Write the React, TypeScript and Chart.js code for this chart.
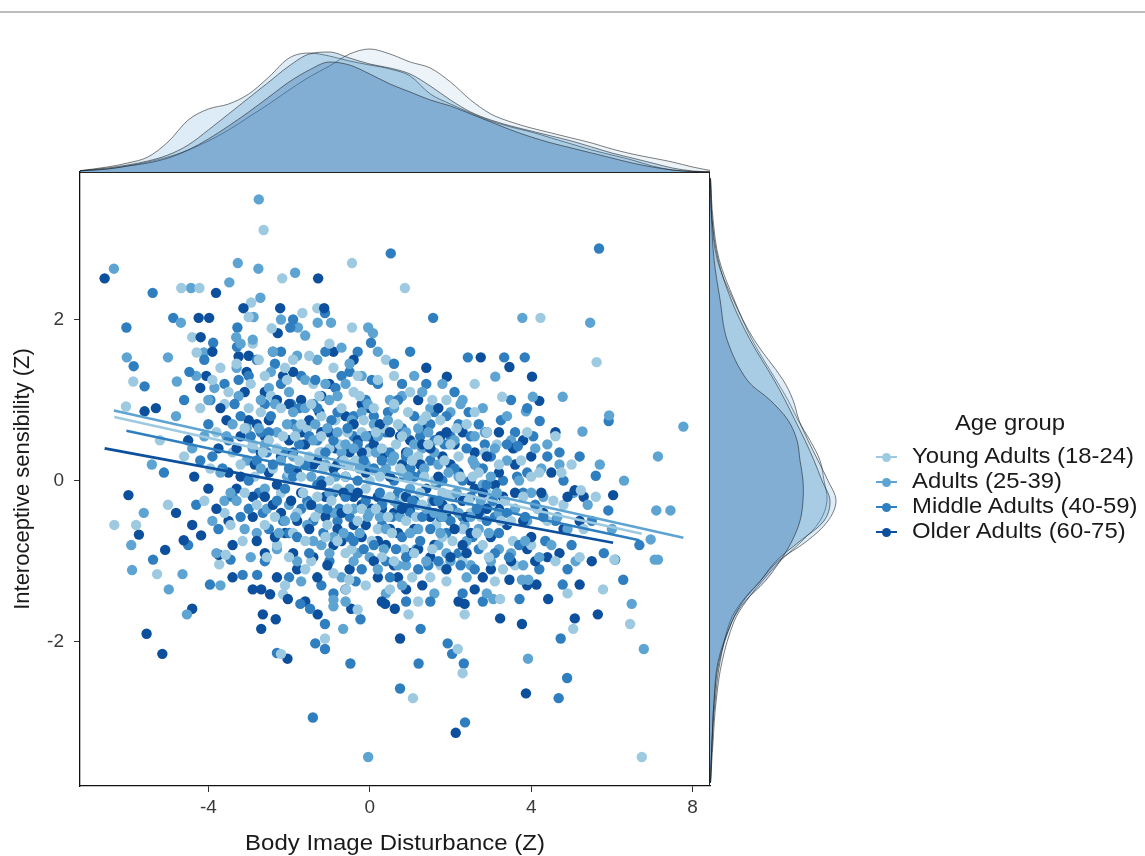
import React, { useEffect, useRef } from 'react';
import { Chart, registerables } from 'chart.js';
Chart.register(...registerables);

const FONT = "'Liberation Sans', Arial, Helvetica, sans-serif";

const GROUPS = ['Young Adults (18-24)', 'Adults (25-39)', 'Middle Adults (40-59)', 'Older Adults (60-75)'];
const COLORS = ['#9ecae1', '#5ea4d3', '#2f7fc0', '#0c4f9c'];
const FILLS = ['rgba(158,202,225,0.2)', 'rgba(107,174,214,0.23)', 'rgba(49,130,189,0.23)', 'rgba(8,81,156,0.24)'];

const X_TICKS = [-4, 0, 4, 8];
const Y_TICKS = [-2, 0, 2];
const X_RANGE = [-7.18, 8.43];
const Y_RANGE = [-3.79, 3.83];

// scatter points [x, y]
const YOUNG_PTS: number[][] = [
  [-4.67,2.39],[-4.22,2.39],[-2.63,3.11],[-2.17,2.51],[-0.44,2.70],[-5.86,1.23],[-6.04,0.92],[-4.40,1.78],[-4.29,1.59],[-2.94,2.21],
  [-3.00,2.03],[-2.43,1.89],[-1.67,2.08],[-1.30,2.14],[-0.44,1.90],[0.87,2.39],[4.23,2.02],[5.62,1.47],[3.28,1.04],[4.60,0.55],
  [5.23,-0.12],[-6.33,-0.55],[-5.79,-0.55],[-5.27,-1.16],[-3.57,-0.92],[-3.73,-1.04],[-2.20,-2.15],[-2.15,-1.41],[-1.11,-1.96],[-0.51,-1.23],
  [-0.59,-1.35],[6.45,-1.78],[6.74,-3.43],[5.04,-1.84],[3.23,-1.47],[2.35,-1.66],[2.18,-2.09],[2.30,-2.39],[1.07,-2.70],[0.96,-1.66],
  [6.06,-0.98],[5.78,-1.35],
  [-3.8,0.6],[-3.5,1.1],[-3.2,0.2],[-3.0,0.9],[-2.8,-0.3],[-2.6,1.3],[-2.5,0.5],[-2.3,-0.8],[-2.2,0.9],[-2.0,0.1],
  [-1.9,1.5],[-1.8,-0.4],[-1.7,0.7],[-1.6,-1.1],[-1.5,0.3],[-1.4,1.2],[-1.3,-0.2],[-1.2,0.8],[-1.1,-0.7],[-1.0,0.4],
  [-0.9,1.4],[-0.8,-0.1],[-0.7,0.9],[-0.6,-0.9],[-0.5,0.2],[-0.4,1.1],[-0.3,-0.5],[-0.2,0.6],[-0.1,-1.3],[0.0,0.0],
  [0.1,0.9],[0.2,-0.6],[0.3,0.4],[0.4,1.5],[0.5,-0.2],[0.6,-1.0],[0.7,0.7],[0.8,0.1],[0.9,-0.5],[1.0,1.1],
  [1.1,-0.9],[1.2,0.3],[1.3,-0.3],[1.4,0.8],[1.5,-1.2],[1.6,0.0],[1.7,0.5],[1.8,-0.7],[1.9,1.0],[2.0,-0.2],
  [2.2,0.3],[2.3,-1.0],[2.4,0.7],[2.5,-0.4],[2.7,0.1],[2.8,-0.8],[2.9,0.6],[3.0,-0.3],[3.2,0.2],[3.3,-1.1],
  [3.5,-0.5],[3.6,0.4],[3.8,-0.2],[4.0,-0.8],[4.2,0.1],[4.4,-0.5],[4.6,-1.0],[4.8,-0.3],[5.0,0.2],[5.3,-0.6],
  [5.6,-0.2],[-3.6,-0.4],[-4.2,0.9],[-4.6,0.3],[-5.2,0.5],[-2.9,1.7],[-1.0,1.7],[0.6,1.3],[-0.3,-1.6],[1.2,-1.5],
  [-2.1,-1.3],[3.9,0.6],[2.6,1.2],[-5.0,-0.3],[4.9,-1.4],
  [-2.9,0.45],[-2.6,-0.55],[-2.4,0.15],[-2.15,0.55],[-1.95,-0.25],[-1.75,0.25],[-1.55,0.65],[-1.35,-0.45],[-1.15,0.15],[-0.95,-0.25],
  [-0.75,0.45],[-0.55,-0.35],[-0.35,0.25],[-0.15,0.75],[0.05,-0.75],[0.25,0.05],[0.45,-0.45],[0.65,0.45],[0.85,-0.85],[1.05,0.25],
  [1.25,-0.15],[1.45,0.45],[1.65,-0.55],[1.85,0.25],[2.05,-0.75],[2.25,0.05],[2.45,-0.25],[2.65,-0.65],[2.85,0.35],[-3.1,-0.15],
  [-2.2,-0.15],[-1.2,0.55],[-0.2,-0.35],[0.8,0.55],[1.8,-0.15],[-1.6,-0.75],[0.3,-0.95],[-2.7,0.85],[1.3,0.75],[-0.6,0.05],
  [-3.4,0.35],[-3.3,1.45],[-3.15,-0.75],[-2.95,1.2],[-2.85,0.05],[-2.65,0.35],[-2.45,1.05],[-2.35,-0.45],[-2.05,1.25],[-1.85,0.55],
  [-1.65,-0.15],[-1.45,0.95],[-1.25,0.35],[-1.05,-0.55],[-0.85,0.75],[-0.65,0.25],[-0.45,-0.85],[-0.25,1.05],[-0.05,0.35],[0.15,-0.35],
  [0.35,0.65],[0.55,-0.65],[0.75,0.15],[0.95,0.85],[1.15,-0.45],[1.35,0.05],[1.55,-0.85],[1.75,0.75],[1.95,-0.35],[2.15,0.65],
  [2.35,-0.85],[2.55,0.05],[2.75,-0.45],[2.95,-0.95],[3.15,0.45],[3.35,-0.25],[3.55,-0.75],[3.75,0.25],[4.15,-0.35],[4.55,-0.25],
  [-3.6,0.95],[-1.5,1.55],[0.2,1.25],[-2.0,-0.95],[-0.9,-1.15],[0.5,-1.35],[1.9,-1.25],[3.1,-1.25],[-4.1,-0.25],[-3.9,1.25],
  [-3.95,0.15],[-3.7,1.4],[-3.45,-0.55],[-3.1,0.65],[-2.75,1.5],[-2.55,-0.95],[-2.3,0.4],[-2.1,1.4],[-1.9,-0.65],[-1.7,0.05],
  [-1.45,-1.0],[-1.25,1.05],[-1.0,0.0],[-0.8,-0.75],[-0.55,0.6],[-0.3,1.3],[-0.1,-0.1],[0.15,0.6],[0.35,-0.25],[0.6,0.95],
  [0.85,-0.2],[1.05,-1.2],[1.3,0.2],[1.55,1.0],[1.75,-1.05],[2.0,0.45],[2.3,-0.6],[2.6,0.85],[2.9,-0.15],[3.25,-0.5],
  [3.6,-1.05],[4.0,0.05],[4.35,-0.75],[4.75,0.1],[5.2,-0.95]
];
const ADULT_PTS: number[][] = [
  [-6.34,2.63],[-4.43,2.39],[-3.48,2.46],[-3.27,2.70],[-2.76,2.63],[-1.85,2.58],[-2.75,3.49],[-6.02,1.53],[-4.68,1.96],[-5.00,1.53],
  [-4.78,1.23],[-4.11,1.59],[-3.31,1.78],[-2.71,2.27],[-2.88,2.03],[-1.78,1.90],[-1.29,1.96],[-0.96,1.96],[-0.04,1.90],[0.08,1.83],
  [3.78,2.02],[5.46,1.96],[3.11,1.29],[4.78,1.04],[4.04,1.04],[5.93,0.81],[7.77,0.67],[5.27,0.61],[7.14,0.30],[3.87,0.86],
  [-5.91,-0.80],[-5.89,-1.11],[-4.98,-1.35],[-4.64,-1.16],[-4.53,-1.66],[-0.66,-1.84],[-0.04,-3.43],[-0.90,-1.48],[-0.90,-1.56],[7.10,-0.37],
  [7.45,-0.37],[7.06,-0.98],[7.14,-0.98],[6.49,-1.53],[6.79,-2.09],[3.92,-2.21],[3.06,-1.47],[3.77,-1.23],[3.93,-1.23],[6.96,-0.73],
  [-4.0,1.0],[-3.7,0.1],[-3.4,0.7],[-3.3,1.4],[-3.1,-0.6],[-2.9,0.4],[-2.7,1.0],[-2.6,-0.1],[-2.4,1.6],[-2.3,0.6],
  [-2.1,-0.5],[-2.0,1.1],[-1.9,0.3],[-1.8,-1.0],[-1.6,0.9],[-1.5,-0.3],[-1.4,0.5],[-1.3,1.5],[-1.2,-0.8],[-1.1,0.2],
  [-1.0,1.0],[-0.9,-0.4],[-0.8,0.6],[-0.7,-1.2],[-0.6,1.2],[-0.5,-0.1],[-0.4,0.4],[-0.3,-0.9],[-0.2,1.3],[-0.1,0.2],
  [0.0,-0.4],[0.1,0.7],[0.2,-1.1],[0.3,0.1],[0.4,-0.6],[0.5,1.0],[0.6,0.3],[0.7,-0.3],[0.8,-1.3],[0.9,0.6],
  [1.0,-0.1],[1.1,1.3],[1.2,-0.6],[1.3,0.4],[1.4,-1.0],[1.5,0.9],[1.6,-0.4],[1.7,0.2],[1.8,1.2],[1.9,-0.9],
  [2.1,0.5],[2.2,-0.4],[2.3,1.0],[2.4,-1.2],[2.6,0.2],[2.7,-0.6],[2.8,0.9],[3.0,-1.0],[3.1,0.4],[3.2,-0.4],
  [3.4,0.8],[3.5,-0.9],[3.7,0.0],[3.9,-0.5],[4.1,0.4],[4.3,-0.2],[4.5,-0.8],[4.7,0.2],[4.9,-0.6],[5.1,-1.0],
  [5.4,-0.3],[5.7,0.2],[6.0,-0.6],[-4.4,0.4],[-4.8,0.8],[-5.4,0.2],[-3.8,-0.9],[-2.2,2.0],[-0.6,-1.5],[1.6,-1.4],
  [0.2,1.6],[-1.6,1.8],[2.9,-1.4],[-5.6,-0.4],[6.3,0.0],
  [-3.05,0.25],[-2.75,0.65],[-2.55,-0.35],[-2.35,0.95],[-2.05,0.05],[-1.85,-0.45],[-1.65,0.45],[-1.45,0.05],[-1.25,-0.35],[-1.05,0.65],
  [-0.85,0.05],[-0.65,-0.65],[-0.45,0.75],[-0.25,0.15],[-0.05,-0.45],[0.15,0.35],[0.35,-0.85],[0.55,0.25],[0.75,-0.45],[0.95,0.05],
  [1.15,-0.85],[1.35,0.15],[1.55,-0.25],[1.75,-0.65],[1.95,0.45],[2.15,-0.15],[2.35,-0.55],[2.55,0.25],[2.75,-0.25],[2.95,-0.65],
  [-2.3,-0.85],[-1.0,-0.9],[0.6,0.9],[-0.1,0.55],[1.1,0.45],[-1.9,0.85],[2.0,-1.0],[-0.4,-1.0],[0.9,-1.05],[-3.3,-0.25],
  [-3.55,0.55],[-3.45,-0.15],[-3.25,1.05],[-3.05,0.65],[-2.8,-0.65],[-2.6,0.45],[-2.45,1.35],[-2.2,0.25],[-2.0,-0.3],[-1.8,0.65],
  [-1.6,1.25],[-1.4,-0.75],[-1.2,0.35],[-1.0,-0.15],[-0.8,1.05],[-0.6,0.45],[-0.4,-0.35],[-0.2,0.85],[0.0,-0.95],[0.2,0.55],
  [0.4,0.15],[0.6,-0.25],[0.8,1.05],[1.0,-0.65],[1.2,0.65],[1.4,-0.35],[1.6,0.35],[1.8,-0.45],[2.0,0.85],[2.2,0.05],
  [2.4,-0.75],[2.6,0.55],[2.8,-0.05],[3.0,0.05],[3.2,-0.85],[3.4,0.25],[3.6,-0.35],[3.8,-1.05],[4.0,-0.15],[4.4,0.45],
  [-3.9,-0.5],[-2.9,1.75],[-0.7,1.65],[-1.7,-1.25],[0.4,-1.4],[1.3,1.1],[2.5,-1.05],[4.2,-0.95],[-4.3,1.3],[-3.7,-1.3],
  [-4.1,0.55],[-3.85,1.15],[-3.6,-0.25],[-3.2,1.7],[-2.95,-0.95],[-2.7,0.15],[-2.5,1.15],[-2.25,-0.65],[-2.05,0.7],[-1.8,1.55],
  [-1.55,-0.55],[-1.35,0.7],[-1.1,1.2],[-0.9,-0.7],[-0.7,0.35],[-0.5,1.45],[-0.25,-0.65],[-0.05,0.95],[0.25,-0.45],[0.45,0.75],
  [0.7,-1.05],[0.95,0.35],[1.2,-0.3],[1.45,0.6],[1.7,-0.8],[1.95,0.1],[2.25,0.95],[2.5,-0.45],[2.85,0.6],[3.15,-0.15],
  [3.5,0.5],[3.85,-0.75],[4.25,0.15],[4.65,-0.45],[5.05,-0.15]
];
const MIDDLE_PTS: number[][] = [
  [-5.38,2.33],[-4.87,2.02],[-5.85,1.42],[-5.58,1.17],[-4.47,1.35],[-3.88,1.71],[-3.28,1.90],[-3.29,1.66],[-1.97,1.90],[-1.11,2.08],
  [0.03,1.71],[0.52,2.82],[5.68,2.88],[1.57,2.02],[2.43,1.53],[3.33,1.53],[3.84,1.53],[5.92,0.74],[3.67,0.43],[4.21,0.74],
  [5.60,0.06],[-5.37,-0.98],[-3.96,-1.29],[-3.45,-0.98],[-3.15,-1.17],[-2.79,-1.17],[-1.72,-1.53],[-1.48,-1.59],[-1.11,-1.78],[-1.35,-2.02],
  [-1.11,-2.09],[-0.48,-2.27],[-1.41,-2.94],[-0.23,-1.72],[4.73,-1.96],[4.89,-2.45],[4.68,-2.70],[3.71,-1.47],[4.78,-1.29],[1.93,-2.02],
  [2.04,-2.15],[2.33,-2.27],[1.26,-1.84],[1.21,-2.27],[0.75,-2.58],[2.36,-3.00],[5.91,-0.37],[6.68,-0.80],[6.08,-0.98],[6.28,-1.23],
  [-2.30,-2.14],[-6.03,1.90],
  [-3.9,0.3],[-3.6,1.2],[-3.4,-0.2],[-3.2,0.8],[-3.0,0.0],[-2.8,1.5],[-2.7,0.6],[-2.5,-0.6],[-2.4,0.2],[-2.2,1.2],
  [-2.1,-0.1],[-1.9,0.7],[-1.8,-0.7],[-1.7,1.3],[-1.6,0.2],[-1.4,-0.5],[-1.3,0.9],[-1.2,0.0],[-1.1,1.6],[-1.0,-1.0],
  [-0.9,0.5],[-0.8,-0.5],[-0.7,1.3],[-0.6,0.2],[-0.5,-0.7],[-0.4,0.8],[-0.3,0.0],[-0.2,-1.1],[-0.1,1.0],[0.0,0.4],
  [0.1,-0.8],[0.2,1.2],[0.3,-0.3],[0.4,0.6],[0.5,-1.2],[0.6,0.0],[0.7,1.0],[0.8,-0.7],[0.9,0.3],[1.0,-0.4],
  [1.1,0.8],[1.2,-1.1],[1.3,0.1],[1.4,1.2],[1.5,-0.6],[1.6,0.5],[1.7,-1.0],[1.8,0.0],[1.9,0.8],[2.0,-0.5],
  [2.1,1.1],[2.2,-0.9],[2.4,0.4],[2.5,-0.2],[2.6,-1.1],[2.7,0.7],[2.9,-0.5],[3.0,0.3],[3.1,-0.9],[3.3,0.0],
  [3.4,-0.4],[3.6,0.6],[3.7,-0.8],[3.9,0.1],[4.1,-0.3],[4.2,-1.1],[4.4,0.3],[4.6,-0.5],[4.8,0.0],[5.0,-0.8],
  [5.2,0.3],[5.5,-0.5],[5.8,-0.9],[-4.3,-0.3],[-4.6,1.0],[-5.1,0.1],[-4.1,1.5],[-0.9,-1.4],[0.9,-1.5],[-2.0,-1.2],
  [2.3,-1.4],[3.5,1.0],[-1.9,2.0],[-0.3,1.6],[1.0,1.6],
  [-3.0,-0.35],[-2.8,0.25],[-2.6,0.95],[-2.3,-0.25],[-2.1,0.35],[-1.9,0.05],[-1.7,-0.35],[-1.5,0.55],[-1.3,-0.05],[-1.1,0.35],
  [-0.9,-0.15],[-0.7,0.25],[-0.5,-0.45],[-0.3,0.45],[-0.1,-0.25],[0.1,0.15],[0.3,-0.55],[0.5,0.35],[0.7,-0.15],[0.9,-0.95],
  [1.1,0.05],[1.3,-0.45],[1.5,0.25],[1.7,-0.25],[1.9,-0.65],[2.1,0.15],[2.3,-0.45],[2.5,0.55],[2.7,-0.85],[2.9,-0.05],
  [-2.0,-0.65],[-0.8,0.85],[0.4,-1.0],[-1.4,0.95],[1.6,0.85],[-0.4,-0.75],[0.8,0.65],[-2.5,0.6],[2.2,0.7],[3.2,-0.65],
  [-3.65,0.15],[-3.35,0.95],[-3.2,-0.45],[-3.0,1.3],[-2.75,-0.15],[-2.55,0.35],[-2.35,1.45],[-2.15,-0.5],[-1.95,0.95],[-1.75,0.45],
  [-1.55,-0.25],[-1.35,1.25],[-1.15,-0.65],[-0.95,0.75],[-0.75,-0.35],[-0.55,0.65],[-0.35,-1.25],[-0.15,0.25],[0.05,1.25],[0.25,-0.15],
  [0.45,0.85],[0.65,-0.85],[0.85,0.05],[1.05,-0.25],[1.25,0.55],[1.45,-1.05],[1.65,-0.05],[1.85,0.45],[2.05,-0.35],[2.25,-1.05],
  [2.45,0.85],[2.65,-0.35],[2.85,0.45],[3.05,-0.25],[3.25,0.75],[3.45,-0.95],[3.65,0.05],[3.85,-0.45],[4.05,0.55],[4.35,-0.75],
  [-4.0,0.7],[-2.6,-1.0],[-0.5,1.35],[0.6,1.45],[-1.2,-1.3],[1.5,-1.5],[2.8,-1.5],[3.9,0.9],[-4.5,-0.8],[4.9,-1.1],
  [-4.2,0.25],[-3.95,1.0],[-3.75,-0.6],[-3.5,0.5],[-3.25,1.25],[-2.95,0.55],[-2.65,-0.4],[-2.45,0.8],[-2.2,1.6],[-2.0,0.15],
  [-1.75,0.9],[-1.5,-0.9],[-1.3,0.5],[-1.05,-0.35],[-0.85,1.15],[-0.6,-0.2],[-0.4,0.55],[-0.15,-0.85],[0.1,0.8],[0.3,0.25],
  [0.55,-0.45],[0.8,1.2],[1.0,0.15],[1.25,-0.75],[1.5,0.7],[1.75,-0.45],[2.0,0.55],[2.3,0.0],[2.55,-0.7],[2.8,0.15],
  [3.1,-0.45],[3.4,0.45],[3.8,-0.15],[4.3,-0.45],[4.7,0.35]
];
const OLDER_PTS: number[][] = [
  [-6.57,2.51],[-3.81,2.33],[-1.28,2.51],[-4.24,2.02],[-3.98,2.02],[-5.58,0.86],[-4.19,1.78],[-3.25,1.54],[-3.13,2.14],[-2.22,2.14],
  [-1.13,2.14],[-2.28,1.83],[2.75,1.53],[3.46,1.41],[4.02,1.29],[1.91,1.29],[4.20,0.99],[6.03,-0.18],[5.08,-0.12],[-5.98,-0.18],
  [-5.72,-0.67],[-5.07,-0.86],[-4.61,-0.74],[-4.18,-0.68],[-4.40,-0.55],[-4.40,-1.59],[-5.53,-1.90],[-5.14,-2.15],[-3.74,-0.92],[-2.90,-1.35],
  [-2.69,-1.35],[-2.47,-1.41],[-2.65,-1.66],[-2.69,-1.84],[-2.33,-1.72],[-2.04,-2.21],[-2.03,-1.47],[-1.29,-1.66],[-0.46,-1.59],[5.65,-1.66],
  [5.08,-1.71],[3.87,-2.64],[4.42,-1.47],[3.77,-1.78],[3.23,-1.71],[2.35,-1.53],[0.75,-1.96],[2.13,-3.13],[0.38,-1.53],[0.62,-1.59],
  [5.20,-1.29],[4.13,-1.29],[3.46,-1.23],
  [-4.0,-0.1],[-3.7,0.9],[-3.5,-0.5],[-3.3,0.4],[-3.1,1.1],[-2.9,-0.2],[-2.8,0.7],[-2.6,-0.9],[-2.5,0.1],[-2.3,1.0],
  [-2.2,-0.4],[-2.0,0.5],[-1.9,-0.9],[-1.8,0.1],[-1.7,1.0],[-1.5,-0.6],[-1.4,0.2],[-1.3,-1.2],[-1.2,0.6],[-1.1,-0.2],
  [-1.0,1.2],[-0.9,-0.8],[-0.8,0.2],[-0.7,-0.4],[-0.6,0.8],[-0.5,-1.1],[-0.4,-0.2],[-0.3,0.5],[-0.2,-0.7],[-0.1,0.1],
  [0.0,0.9],[0.1,-1.0],[0.2,-0.2],[0.3,0.3],[0.4,-0.8],[0.5,0.6],[0.6,-0.4],[0.7,-1.2],[0.8,0.2],[0.9,-0.2],
  [1.0,0.5],[1.1,-0.6],[1.2,1.0],[1.3,-1.3],[1.4,-0.1],[1.5,0.4],[1.6,-0.8],[1.7,0.9],[1.8,-0.3],[1.9,-1.1],
  [2.0,0.2],[2.1,-0.6],[2.3,0.6],[2.4,-0.9],[2.5,0.0],[2.7,-0.4],[2.8,-1.2],[2.9,0.3],[3.0,-0.7],[3.2,0.6],
  [3.3,-0.2],[3.5,-1.0],[3.6,0.2],[3.8,-0.5],[4.0,0.3],[4.1,-1.0],[4.3,-0.4],[4.5,0.1],[4.7,-0.9],[4.9,-0.2],
  [5.2,-0.5],[5.5,-1.0],[-4.5,0.5],[-4.8,-0.4],[-5.3,0.9],[-3.9,1.6],[-2.4,1.6],[-0.4,1.5],[-1.6,-1.5],[0.3,-1.5],
  [2.2,-1.5],[1.4,1.4],[3.9,-1.3],[-3.4,-1.2],[4.6,0.6],
  [-3.2,0.55],[-2.9,-0.45],[-2.7,0.35],[-2.5,0.75],[-2.3,-0.05],[-2.1,-0.65],[-1.9,0.35],[-1.7,-0.15],[-1.5,0.75],[-1.3,0.25],
  [-1.1,-0.45],[-0.9,0.15],[-0.7,-0.75],[-0.5,0.35],[-0.3,-0.15],[-0.1,-0.55],[0.1,0.45],[0.3,-0.35],[0.5,0.05],[0.7,-0.65],
  [0.9,0.35],[1.1,-0.25],[1.3,0.45],[1.5,-0.45],[1.7,0.05],[1.9,-0.45],[2.1,0.45],[2.3,-0.25],[2.5,-0.65],[2.7,0.15],
  [2.9,-0.35],[-1.8,-1.1],[-0.2,0.95],[1.0,-0.9],[-2.6,-0.2],[0.2,-1.2],[3.1,-0.05],[-1.2,1.05],[1.9,0.6],[-3.5,0.1],
  [-3.75,0.4],[-3.4,-0.8],[-3.2,0.05],[-3.0,0.75],[-2.8,-0.75],[-2.6,1.1],[-2.4,-0.3],[-2.2,0.3],[-2.0,0.95],[-1.8,-0.5],
  [-1.6,0.45],[-1.4,-0.95],[-1.2,-0.05],[-1.0,0.6],[-0.8,-0.6],[-0.6,0.05],[-0.4,0.7],[-0.2,-0.3],[0.0,0.55],[0.2,-0.75],
  [0.4,0.35],[0.6,-1.05],[0.8,-0.35],[1.0,0.15],[1.2,-0.85],[1.4,0.65],[1.6,-0.25],[1.8,0.3],[2.0,-0.95],[2.2,0.1],
  [2.4,-0.45],[2.6,0.35],[2.8,-0.15],[3.0,-1.1],[3.2,0.1],[3.4,-0.55],[3.6,-0.15],[3.8,0.5],[4.0,-0.7],[4.4,-0.95],
  [-4.2,1.15],[-3.0,1.55],[-1.9,1.35],[-0.9,1.6],[-2.3,-1.2],[-0.6,-1.35],[0.9,-1.35],[2.6,-1.35],[4.8,-0.6],[5.3,-0.2],
  [-4.35,0.05],[-4.05,1.3],[-3.8,-0.35],[-3.55,0.75],[-3.3,-0.1],[-3.05,1.35],[-2.85,0.2],[-2.6,0.55],[-2.35,-0.7],[-2.15,1.3],
  [-1.95,-0.25],[-1.7,0.6],[-1.45,-0.3],[-1.25,0.85],[-1.05,-1.05],[-0.85,0.4],[-0.65,-0.15],[-0.4,-0.55],[-0.2,0.35],[0.05,-0.35],
  [0.25,0.7],[0.5,-0.6],[0.75,0.55],[1.0,-0.35],[1.25,0.2],[1.5,-0.95],[1.75,0.55],[2.05,-0.2],[2.3,-0.8],[2.6,-0.1],
  [2.9,0.6],[3.2,-0.35],[3.55,0.4],[3.9,-0.85],[4.25,-0.15]
];

// regression line end points per group
const FIT_X0 = [-6.33, -6.34, -6.03, -6.57];
const FIT_Y0 = [0.79, 0.87, 0.62, 0.40];
const FIT_X1 = [6.74, 7.77, 6.68, 6.03];
const FIT_Y1 = [-0.66, -0.71, -0.74, -0.77];

// top marginal density (x = Body Image Disturbance)
const TOP_X = [-7.25,-6.5,-6,-5.5,-5,-4.5,-4,-3.5,-3,-2.5,-2,-1.5,-1,-0.5,0,0.5,1,1.5,2,2.5,3,3.5,4,4.5,5,5.5,6,6.5,7,7.5,8,8.5];
const TOP_YOUNG = [1,3,6,10,15,22,31,42,55,68,82,95,106,118,123,118,110,104,90,72,58,50,44,39,34,29,23,18,14,10,5,1];
const TOP_ADULT = [1,5,9,15,30,52,63,68,78,95,114,119,116,111,107,103,96,78,68,59,51,45,40,34,28,22,17,12,6,2,0.5,0];
const TOP_MIDDLE = [1,4,7,11,17,27,42,58,74,90,106,118,120,114,108,104,98,86,72,60,52,46,41,36,31,25,19,14,9,4,1,0];
const TOP_OLDER = [1,3,6,9,14,22,33,46,60,75,90,102,110,107,98,88,80,72,66,58,50,42,35,29,24,19,14,9,5,2,0.5,0];

// right marginal density (y = Interoceptive sensibility)
const RIGHT_Y = [-3.75,-3.25,-2.75,-2.25,-1.75,-1.5,-1.25,-1,-0.75,-0.5,-0.25,0,0.25,0.5,0.75,1,1.25,1.75,2.25,2.75,3.25,3.75];
const RIGHT_YOUNG = [0.5,3,6,12,24,36,52,70,92,110,117,114,110,100,88,78,66,42,24,9,3,0.5];
const RIGHT_ADULT = [0.5,2,5,10,20,32,50,68,97,118,126,118,108,98,89,83,73,44,23,7,2,0.5];
const RIGHT_MIDDLE = [0.5,2,4,9,22,33,50,66,90,114,120,112,104,95,85,75,64,40,21,8,2,0.5];
const RIGHT_OLDER = [0.5,2,4,8,22,35,55,70,82,90,93,93,90,87,78,60,37,17,10,4,1.5,0.3];

const PTS = [YOUNG_PTS, ADULT_PTS, MIDDLE_PTS, OLDER_PTS];
const TOP_D = [TOP_YOUNG, TOP_ADULT, TOP_MIDDLE, TOP_OLDER];
const RIGHT_D = [RIGHT_YOUNG, RIGHT_ADULT, RIGHT_MIDDLE, RIGHT_OLDER];

const framePlugin = {
  id: 'frame',
  afterDatasetsDraw(chart: any) {
    const { ctx, chartArea: a } = chart;
    ctx.save();
    ctx.strokeStyle = '#222';
    ctx.lineWidth = 1;
    ctx.beginPath();
    ctx.moveTo(a.left, a.top + 0.5);
    ctx.lineTo(a.right, a.top + 0.5);
    ctx.moveTo(a.right - 0.5, a.top);
    ctx.lineTo(a.right - 0.5, a.bottom);
    ctx.stroke();
    ctx.restore();
  },
};

function mainConfig(): any {
  const lines = GROUPS.map((g, i) => ({
    label: g + ' fit',
    data: [{ x: FIT_X0[i], y: FIT_Y0[i] }, { x: FIT_X1[i], y: FIT_Y1[i] }],
    showLine: true,
    borderColor: COLORS[i],
    borderWidth: 2.6,
    pointRadius: 0,
    fill: false,
  }));
  const pts: any[] = [];
  for (let h = 0; h < 2; h++) {
    for (let g = 0; g < 4; g++) {
      pts.push({
        label: GROUPS[g],
        data: PTS[g].filter((_, i) => i % 2 === h).map(([x, y]) => ({ x, y })),
        backgroundColor: COLORS[g],
        borderWidth: 0,
        pointRadius: 5.2,
        pointHoverRadius: 5.2,
        showLine: false,
      });
    }
  }
  return {
    type: 'scatter',
    data: { datasets: [...lines, ...pts] },
    options: {
      responsive: false,
      animation: false,
      events: [],
      layout: { padding: { top: 12, right: 10, left: 0, bottom: 0 } },
      plugins: { legend: { display: false }, tooltip: { enabled: false } },
      scales: {
        x: {
          type: 'linear',
          min: X_RANGE[0],
          max: X_RANGE[1],
          afterBuildTicks: (s: any) => { s.ticks = X_TICKS.map((v) => ({ value: v })); },
          afterFit: (s: any) => { s.height = 70; s.paddingLeft = 0; s.paddingRight = 0; },
          grid: { drawOnChartArea: false, drawTicks: true, tickLength: 6, color: '#333', lineWidth: 1 },
          border: { display: true, color: '#111', width: 1.3 },
          ticks: { color: '#3a3a3a', font: { size: 19, family: FONT }, padding: 4, maxRotation: 0, autoSkip: false },
        },
        y: {
          type: 'linear',
          min: Y_RANGE[0],
          max: Y_RANGE[1],
          afterBuildTicks: (s: any) => { s.ticks = Y_TICKS.map((v) => ({ value: v })); },
          afterFit: (s: any) => { s.width = 80; s.paddingTop = 0; s.paddingBottom = 0; },
          grid: { drawOnChartArea: false, drawTicks: true, tickLength: 6, color: '#333', lineWidth: 1 },
          border: { display: true, color: '#111', width: 1.3 },
          ticks: { color: '#3a3a3a', font: { size: 19, family: FONT }, padding: 10, autoSkip: false },
        },
      },
    },
    plugins: [framePlugin],
  };
}

function densityDataset(i: number, data: any[]) {
  return {
    label: GROUPS[i],
    data,
    fill: 'origin',
    backgroundColor: FILLS[i],
    borderColor: 'rgba(25,25,25,0.7)',
    borderWidth: 0.8,
    pointRadius: 0,
  };
}

function topConfig(): any {
  // later datasets are painted first, so Young ends up at the bottom
  const sets = TOP_D.map((d, i) => ({
    ...densityDataset(i, TOP_X.map((x, k) => ({ x, y: d[k] }))),
    cubicInterpolationMode: 'monotone',
  })).reverse();
  return {
    type: 'line',
    data: { datasets: sets },
    options: {
      responsive: false,
      animation: false,
      events: [],
      layout: { padding: 0 },
      plugins: { legend: { display: false }, tooltip: { enabled: false } },
      scales: {
        x: { type: 'linear', min: X_RANGE[0], max: X_RANGE[1], display: false },
        y: { type: 'linear', min: 0, max: 152, display: false },
      },
    },
  };
}

function rightConfig(): any {
  const sets = RIGHT_D.map((d, i) => ({
    ...densityDataset(i, RIGHT_Y.map((y, k) => ({ x: d[k], y }))),
    tension: 0.35,
  })).reverse();
  return {
    type: 'line',
    data: { datasets: sets },
    options: {
      indexAxis: 'y',
      responsive: false,
      animation: false,
      events: [],
      layout: { padding: 0 },
      plugins: { legend: { display: false }, tooltip: { enabled: false } },
      scales: {
        y: { type: 'linear', min: Y_RANGE[0], max: Y_RANGE[1], display: false },
        x: { type: 'linear', min: 0, max: 140, display: false },
      },
    },
  };
}

const LEGEND_Y = [457, 482, 507, 532];

export default function App() {
  const mainRef = useRef<HTMLCanvasElement>(null);
  const topRef = useRef<HTMLCanvasElement>(null);
  const rightRef = useRef<HTMLCanvasElement>(null);

  useEffect(() => {
    Chart.defaults.font.family = FONT;
    const charts: Chart[] = [];
    if (mainRef.current) charts.push(new Chart(mainRef.current, mainConfig()));
    if (topRef.current) charts.push(new Chart(topRef.current, topConfig()));
    if (rightRef.current) charts.push(new Chart(rightRef.current, rightConfig()));
    return () => charts.forEach((c) => c.destroy());
  }, []);

  const abs = (l: number, t: number, w: number, h: number): React.CSSProperties => ({
    position: 'absolute', left: l, top: t, width: w, height: h,
  });

  return (
    <div style={{ position: 'absolute', left: 0, top: 0, width: 1145, height: 856, background: '#fff', overflow: 'hidden', fontFamily: FONT, color: '#1a1a1a' }}>
      <div style={{ ...abs(0, 11, 1145, 2), background: '#bdbdbd' }} />
      <canvas ref={topRef} width={630} height={152} style={abs(80, 20, 630, 152)} />
      <canvas ref={rightRef} width={140} height={614} style={abs(710, 172, 140, 614)} />
      <canvas ref={mainRef} width={720} height={696} style={abs(0, 160, 720, 696)} />
      <div style={{ ...abs(145, 830, 500, 26), fontSize: 22, lineHeight: '26px', textAlign: 'center', transform: 'scaleX(1.09)', whiteSpace: 'nowrap' }}>
        Body Image Disturbance (Z)
      </div>
      <div style={{ ...abs(22 - 200, 479 - 13, 400, 26), fontSize: 22, lineHeight: '26px', textAlign: 'center', transform: 'rotate(-90deg)', whiteSpace: 'nowrap' }}>
        Interoceptive sensibility (Z)
      </div>
      <div style={{ ...abs(860, 410, 300, 26), fontSize: 22, lineHeight: '26px', textAlign: 'center', transform: 'scaleX(1.085)', whiteSpace: 'nowrap' }}>
        Age group
      </div>
      {GROUPS.map((g, i) => (
        <React.Fragment key={g}>
          <div style={{ ...abs(876, LEGEND_Y[i] - 1.3, 21, 2.6), background: COLORS[i] }} />
          <div style={{ ...abs(882, LEGEND_Y[i] - 4.5, 9, 9), background: COLORS[i], borderRadius: '50%' }} />
          <div style={{ ...abs(912, LEGEND_Y[i] - 14, 240, 26), fontSize: 22, lineHeight: '26px', transform: 'scaleX(1.085)', transformOrigin: 'left center', whiteSpace: 'nowrap' }}>
            {g}
          </div>
        </React.Fragment>
      ))}
    </div>
  );
}
